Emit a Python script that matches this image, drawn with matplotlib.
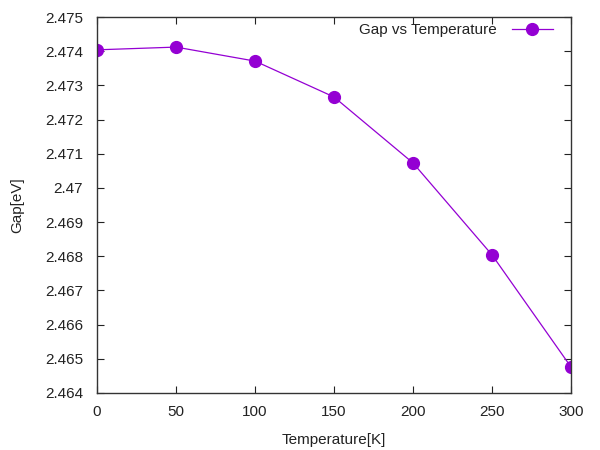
import matplotlib
matplotlib.use('Agg')
import matplotlib.pyplot as plt

# band gap
temperature = [0, 50, 100, 150, 200, 250, 300]
gap = [2.47404, 2.47412, 2.47371, 2.47266, 2.47073, 2.46804, 2.46476]

plt.rcParams['font.family'] = ['Liberation Sans', 'DejaVu Sans']
plt.rcParams['font.size'] = 11

fig = plt.figure(figsize=(6, 4.5), dpi=100)
ax = fig.add_axes([0.1617, 0.1267, 0.79, 0.8355])

ax.plot(temperature, gap, color='#9400d3', lw=0.9, marker='o', ms=8.5,
        label='Gap vs Temperature')

ax.set_xlim(0, 300)
ax.set_ylim(2.464, 2.475)
ax.set_xticks(range(0, 301, 50))
yt = [2.464 + 0.001 * i for i in range(12)]
ax.set_yticks(yt)
ax.set_yticklabels(['%g' % round(v, 3) for v in yt])
ax.tick_params(axis='y', pad=10)
ax.tick_params(axis='x', pad=9)
ax.tick_params(direction='in', top=True, right=True, length=5, colors='#222222', labelcolor='#222222')
for s in ax.spines.values():
    s.set_color('#333333')
    s.set_linewidth(1.0)

ax.set_xlabel('Temperature[K]', color='#222222', labelpad=10)
ax.set_ylabel('Gap[eV]', color='#222222', labelpad=15)

ax.legend(loc='upper right', bbox_to_anchor=(0.975, 1.0), frameon=False,
          markerfirst=False, handlelength=2.7, handletextpad=1.0,
          borderaxespad=0, labelcolor='#222222')

plt.savefig('out.png', dpi=100)
